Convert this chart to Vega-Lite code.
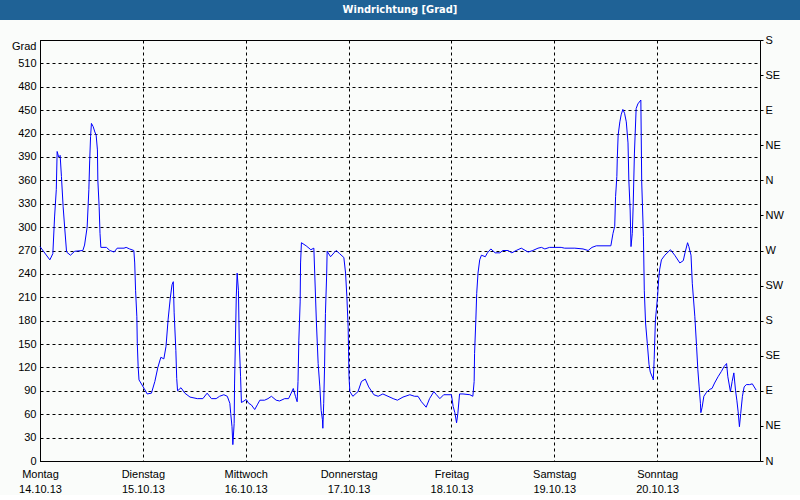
{
  "$schema": "https://vega.github.io/schema/vega-lite/v6.json",
  "background": "#fafcfa",
  "padding": 0,
  "autosize": {"type": "pad"},
  "spacing": 20,
  "bounds": "flush",
  "center": true,
  "config": {
    "font": "Liberation Sans",
    "view": {"stroke": "#000000", "strokeWidth": 1},
    "axis": {
      "labelFont": "Liberation Sans",
      "labelFontSize": 11,
      "labelColor": "#000000",
      "domainColor": "#000000",
      "domainWidth": 1,
      "gridColor": "#000000",
      "gridDash": [3, 3],
      "gridOpacity": 1,
      "gridWidth": 1,
      "tickColor": "#000000",
      "labelOverlap": false
    }
  },
  "vconcat": [
    {
      "width": 800,
      "height": 20,
      "view": {"fill": "#1f6296", "stroke": null},
      "data": {"values": [{"label": "Windrichtung [Grad]"}]},
      "mark": {"type": "text", "color": "#ffffff", "font": "Liberation Sans Narrow, DejaVu Sans Condensed, Liberation Sans", "fontSize": 11, "fontWeight": "bold", "baseline": "middle", "align": "center"},
      "encoding": {"text": {"field": "label"}}
    },
    {
      "width": 720,
      "height": 421,
      "data": {"values": [
        {"t":0.0,"v":275},{"t":2.3,"v":258},{"t":3.0,"v":266},{"t":3.4,"v":313},{"t":3.8,"v":348},{"t":4.0,"v":397},{"t":4.35,"v":390},{"t":4.7,"v":392},{"t":5.0,"v":365},{"t":5.4,"v":326},{"t":5.75,"v":300},{"t":6.2,"v":268},{"t":7.1,"v":264},{"t":8.1,"v":269},{"t":10.0,"v":270},{"t":10.4,"v":277},{"t":11.0,"v":300},{"t":11.4,"v":348},{"t":11.6,"v":386},{"t":11.8,"v":416},{"t":12.0,"v":433},{"t":12.4,"v":429},{"t":12.8,"v":422},{"t":13.1,"v":418},{"t":13.4,"v":399},{"t":13.5,"v":360},{"t":13.8,"v":326},{"t":14.0,"v":292},{"t":14.2,"v":274},{"t":15.5,"v":274},{"t":16.3,"v":270},{"t":17.3,"v":268},{"t":18.0,"v":273},{"t":19.6,"v":273},{"t":20.1,"v":274},{"t":20.9,"v":272},{"t":21.9,"v":270},{"t":22.1,"v":254},{"t":22.3,"v":219},{"t":22.6,"v":185},{"t":22.7,"v":151},{"t":22.9,"v":121},{"t":23.1,"v":104},{"t":24.3,"v":93},{"t":25.0,"v":86},{"t":26.0,"v":87},{"t":26.8,"v":102},{"t":27.5,"v":120},{"t":28.2,"v":133},{"t":28.9,"v":131},{"t":29.4,"v":147},{"t":29.9,"v":182},{"t":30.4,"v":209},{"t":30.8,"v":226},{"t":31.1,"v":230},{"t":31.3,"v":190},{"t":31.7,"v":142},{"t":31.9,"v":106},{"t":32.1,"v":90},{"t":32.9,"v":94},{"t":33.8,"v":87},{"t":35.0,"v":82},{"t":36.7,"v":80},{"t":38.0,"v":80},{"t":39.0,"v":87},{"t":40.0,"v":80},{"t":41.1,"v":80},{"t":41.9,"v":83},{"t":42.9,"v":85},{"t":43.7,"v":83},{"t":44.3,"v":74},{"t":44.5,"v":61},{"t":44.8,"v":44},{"t":45.0,"v":21},{"t":45.3,"v":48},{"t":45.4,"v":100},{"t":45.6,"v":155},{"t":45.8,"v":211},{"t":46.0,"v":241},{"t":46.3,"v":219},{"t":46.5,"v":151},{"t":46.8,"v":108},{"t":47.0,"v":75},{"t":47.6,"v":77},{"t":48.1,"v":79},{"t":48.7,"v":74},{"t":49.3,"v":72},{"t":50.1,"v":66},{"t":50.7,"v":72},{"t":51.3,"v":78},{"t":52.4,"v":78},{"t":53.2,"v":80},{"t":54.0,"v":83},{"t":55.1,"v":78},{"t":55.9,"v":77},{"t":57.1,"v":80},{"t":58.0,"v":80},{"t":58.6,"v":87},{"t":59.1,"v":93},{"t":59.6,"v":83},{"t":60.0,"v":76},{"t":60.2,"v":102},{"t":60.4,"v":155},{"t":60.7,"v":204},{"t":60.8,"v":254},{"t":61.0,"v":280},{"t":62.1,"v":276},{"t":63.2,"v":271},{"t":63.9,"v":273},{"t":64.1,"v":241},{"t":64.5,"v":177},{"t":64.9,"v":125},{"t":65.3,"v":95},{"t":65.6,"v":65},{"t":65.9,"v":53},{"t":66.0,"v":42},{"t":66.2,"v":74},{"t":66.4,"v":121},{"t":66.6,"v":189},{"t":66.9,"v":241},{"t":67.0,"v":269},{"t":67.8,"v":262},{"t":68.6,"v":267},{"t":69.1,"v":270},{"t":69.9,"v":266},{"t":70.9,"v":261},{"t":71.3,"v":241},{"t":71.6,"v":211},{"t":71.9,"v":172},{"t":72.0,"v":140},{"t":72.1,"v":108},{"t":72.3,"v":89},{"t":73.0,"v":83},{"t":74.2,"v":89},{"t":75.0,"v":102},{"t":75.9,"v":105},{"t":76.7,"v":95},{"t":77.9,"v":85},{"t":78.9,"v":83},{"t":80.0,"v":86},{"t":81.2,"v":83},{"t":82.4,"v":80},{"t":83.4,"v":78},{"t":84.7,"v":82},{"t":86.3,"v":85},{"t":87.4,"v":83},{"t":88.2,"v":83},{"t":89.0,"v":76},{"t":90.1,"v":69},{"t":90.9,"v":80},{"t":91.9,"v":89},{"t":92.5,"v":85},{"t":93.3,"v":80},{"t":94.2,"v":85},{"t":95.2,"v":85},{"t":96.0,"v":85},{"t":96.4,"v":70},{"t":96.8,"v":62},{"t":97.2,"v":49},{"t":97.5,"v":61},{"t":97.9,"v":86},{"t":98.7,"v":86},{"t":100.3,"v":85},{"t":101.0,"v":83},{"t":101.3,"v":102},{"t":101.4,"v":138},{"t":101.7,"v":181},{"t":101.9,"v":215},{"t":102.2,"v":241},{"t":102.6,"v":258},{"t":103.0,"v":264},{"t":103.9,"v":262},{"t":104.4,"v":267},{"t":105.2,"v":272},{"t":106.2,"v":267},{"t":107.3,"v":267},{"t":108.0,"v":270},{"t":109.2,"v":270},{"t":110.1,"v":267},{"t":111.1,"v":270},{"t":112.3,"v":273},{"t":113.9,"v":268},{"t":115.0,"v":270},{"t":116.2,"v":273},{"t":117.0,"v":274},{"t":117.8,"v":272},{"t":118.9,"v":274},{"t":121.6,"v":274},{"t":122.4,"v":273},{"t":124.8,"v":273},{"t":126.7,"v":272},{"t":127.9,"v":270},{"t":128.8,"v":274},{"t":129.8,"v":276},{"t":133.2,"v":276},{"t":133.7,"v":292},{"t":134.1,"v":301},{"t":134.3,"v":339},{"t":134.6,"v":365},{"t":134.7,"v":388},{"t":134.9,"v":418},{"t":135.3,"v":435},{"t":135.6,"v":444},{"t":136.0,"v":451},{"t":136.4,"v":446},{"t":136.8,"v":435},{"t":137.2,"v":408},{"t":137.4,"v":360},{"t":137.7,"v":322},{"t":137.9,"v":275},{"t":138.2,"v":292},{"t":138.4,"v":326},{"t":138.7,"v":395},{"t":139.1,"v":452},{"t":139.5,"v":458},{"t":140.2,"v":463},{"t":140.4,"v":358},{"t":140.8,"v":288},{"t":141.0,"v":219},{"t":141.3,"v":177},{"t":141.7,"v":151},{"t":142.1,"v":124},{"t":142.4,"v":114},{"t":143.0,"v":106},{"t":143.1,"v":104},{"t":143.3,"v":130},{"t":143.6,"v":181},{"t":144.1,"v":211},{"t":144.4,"v":236},{"t":144.6,"v":246},{"t":145.0,"v":258},{"t":145.8,"v":264},{"t":147.1,"v":271},{"t":148.1,"v":264},{"t":149.3,"v":254},{"t":150.1,"v":257},{"t":150.5,"v":267},{"t":151.1,"v":280},{"t":151.4,"v":275},{"t":151.9,"v":264},{"t":152.2,"v":228},{"t":152.8,"v":185},{"t":153.2,"v":147},{"t":153.5,"v":117},{"t":153.8,"v":95},{"t":154.1,"v":74},{"t":154.2,"v":62},{"t":154.5,"v":69},{"t":154.9,"v":83},{"t":155.5,"v":88},{"t":156.3,"v":92},{"t":156.8,"v":93},{"t":157.4,"v":100},{"t":158.2,"v":108},{"t":159.0,"v":115},{"t":159.6,"v":121},{"t":160.2,"v":125},{"t":160.5,"v":108},{"t":161.1,"v":89},{"t":161.5,"v":102},{"t":161.9,"v":113},{"t":162.3,"v":90},{"t":162.6,"v":78},{"t":162.9,"v":63},{"t":163.2,"v":44},{"t":163.5,"v":61},{"t":163.9,"v":83},{"t":164.3,"v":95},{"t":164.8,"v":98},{"t":165.6,"v":98},{"t":166.2,"v":99},{"t":167.1,"v":91}
      ]},
      "layer": [
        {
          "mark": {"type": "line", "color": "#0000ff", "strokeWidth": 1, "interpolate": "linear"},
          "encoding": {
            "x": {"field": "t", "type": "quantitative", "title": null,
              "scale": {"domain": [0, 168], "nice": false, "zero": false},
              "axis": {"values": [0, 24, 48, 72, 96, 120, 144], "grid": true, "ticks": false, "tickSize": 0,
                "labelFlush": false, "labelPadding": 7, "labelLineHeight": 15,
                "labelExpr": "[['Montag','14.10.13'],['Dienstag','15.10.13'],['Mittwoch','16.10.13'],['Donnerstag','17.10.13'],['Freitag','18.10.13'],['Samstag','19.10.13'],['Sonntag','20.10.13']][round(datum.value/24)]"}},
            "y": {"field": "v", "type": "quantitative", "title": null,
              "scale": {"domain": [0, 540], "nice": false, "zero": true},
              "axis": {"orient": "left", "values": [0,30,60,90,120,150,180,210,240,270,300,330,360,390,420,450,480,510,540],
                "grid": true, "ticks": false, "tickSize": 0, "labelPadding": 4,
                "labelBaseline": {"condition": {"test": "datum.value == 540", "value": "top"}, "value": "middle"},
                "labelExpr": "datum.value == 540 ? 'Grad' : datum.label"}}
          }
        },
        {
          "mark": {"type": "line", "color": "#0000ff", "strokeWidth": 1, "opacity": 0},
          "encoding": {
            "x": {"field": "t", "type": "quantitative"},
            "y": {"field": "v", "type": "quantitative", "title": null,
              "axis": {"orient": "right", "values": [0,45,90,135,180,225,270,315,360,405,450,495,540],
                "grid": false, "ticks": true, "tickSize": 3, "labelPadding": 2,
                "labelExpr": "['N','NE','E','SE','S','SW','W','NW','N','NE','E','SE','S'][round(datum.value/45)]"}}
          }
        }
      ],
      "resolve": {"axis": {"y": "independent"}}
    }
  ]
}
